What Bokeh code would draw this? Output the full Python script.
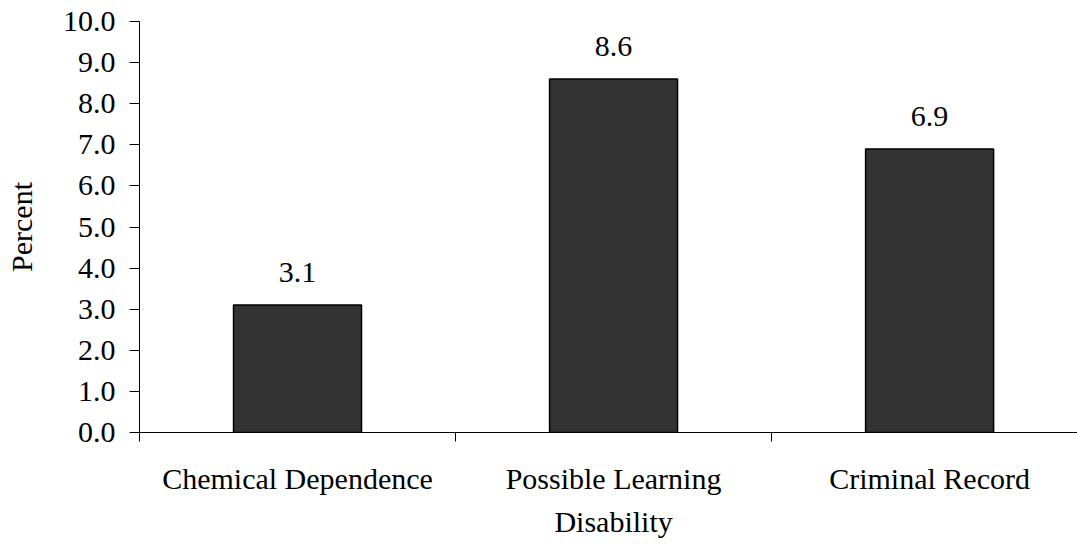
from bokeh.plotting import figure
from bokeh.models import ColumnDataSource, FixedTicker, NumeralTickFormatter
from bokeh.core.properties import value
from bokeh.embed import file_html
from bokeh.resources import INLINE

categories = ["Chemical Dependence", "Possible Learning\nDisability", "Criminal Record"]
percent = [3.1, 8.6, 6.9]
y_ticks = [0, 1, 2, 3, 4, 5, 6, 7, 8, 9, 10]

FONT = "Liberation Serif"
FS = "30px"

centers = [i + 0.5 for i in range(len(categories))]
src = ColumnDataSource(data=dict(
    x=centers,
    top=percent,
    label=[f"{v:.1f}" for v in percent],
))

p = figure(width=1077, height=544, output_backend="svg", toolbar_location=None,
           x_range=(0, 2.968), y_range=(0, 10),
           min_border_left=139, min_border_right=0, min_border_top=21, min_border_bottom=112)
p.outline_line_color = None
p.xgrid.grid_line_color = None
p.ygrid.grid_line_color = None
p.background_fill_color = "white"
p.border_fill_color = "white"

p.vbar(x="x", top="top", bottom=0, width=0.405, source=src,
       fill_color="#333333", line_color="black", line_width=1.5)

p.text(x="x", y="top", text="label", source=src, text_align="center",
       text_baseline="bottom", y_offset=-23, text_font=value(FONT),
       text_font_size=value(FS), text_color="black")

# y axis
p.yaxis.ticker = FixedTicker(ticks=y_ticks)
p.yaxis.formatter = NumeralTickFormatter(format="0.0")
p.yaxis.major_tick_in = 0
p.yaxis.major_tick_out = 10
p.yaxis.minor_tick_line_color = None
p.yaxis.major_label_standoff = 14
p.yaxis.axis_label = "Percent"
p.yaxis.axis_label_standoff = 22
p.yaxis.axis_label_text_font = FONT
p.yaxis.axis_label_text_font_size = FS
p.yaxis.axis_label_text_font_style = "normal"
p.yaxis.axis_label_text_color = "black"
p.yaxis.major_label_text_font = FONT
p.yaxis.major_label_text_font_size = FS
p.yaxis.major_label_text_color = "black"
p.yaxis.axis_line_color = "black"
p.yaxis.major_tick_line_color = "black"

# x axis: labels at category centres, separator ticks between categories
p.xaxis.ticker = FixedTicker(ticks=centers, minor_ticks=[0, 1, 2, 3])
p.xaxis.major_label_overrides = {c: lab for c, lab in zip(centers, categories)}
p.xaxis.major_tick_in = 0
p.xaxis.major_tick_out = 0
p.xaxis.minor_tick_in = 0
p.xaxis.minor_tick_out = 9
p.xaxis.minor_tick_line_color = "black"
p.xaxis.major_label_standoff = 20
p.xaxis.major_label_text_font = FONT
p.xaxis.major_label_text_font_size = FS
p.xaxis.major_label_text_color = "black"
p.xaxis.major_label_text_line_height = 1.32
p.xaxis.major_label_text_align = "center"
p.xaxis.axis_line_color = "black"

open("out.html", "w").write(file_html(p, INLINE))
